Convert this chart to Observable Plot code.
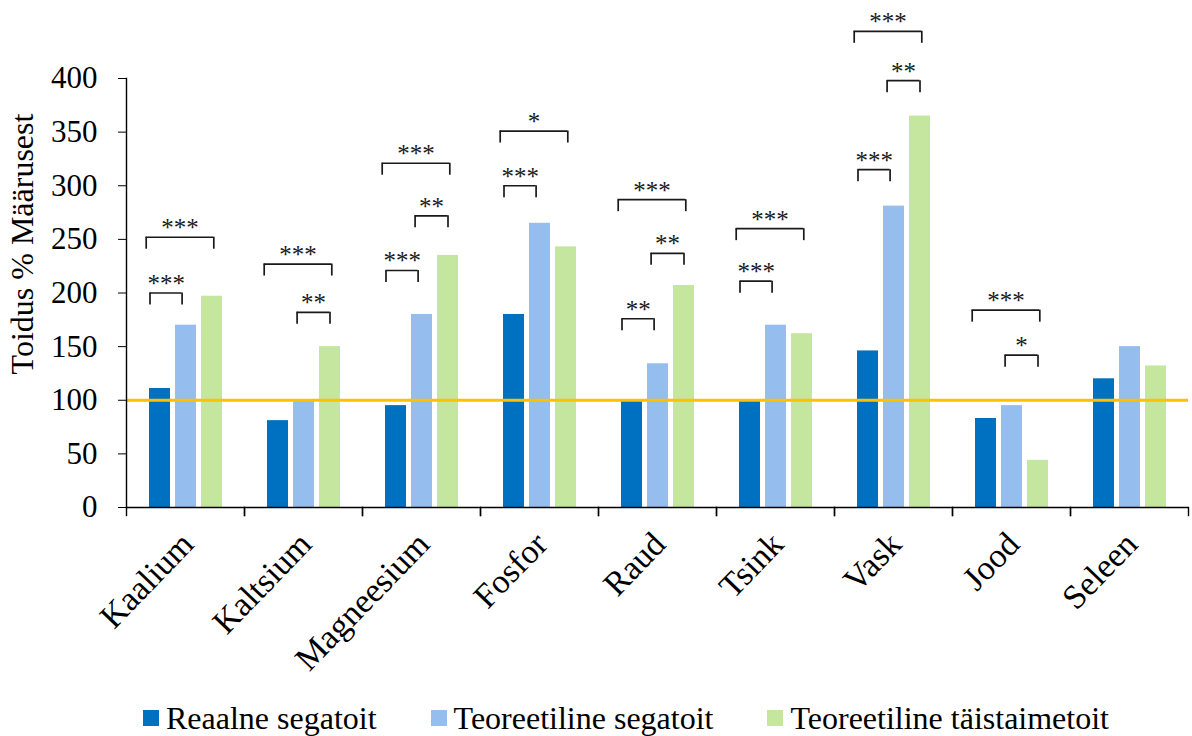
<!DOCTYPE html>
<html>
<head>
<meta charset="utf-8">
<script src="https://cdn.jsdelivr.net/npm/d3@7"></script>
<script src="https://cdn.jsdelivr.net/npm/@observablehq/plot@0.6"></script>
<style>
  html, body { margin: 0; padding: 0; background: #fff; overflow: hidden; }
  body { font-family: "Liberation Serif", Tinos, "Times New Roman", "DejaVu Serif", serif; color: #000; }
  #legend { display: flex; align-items: center; height: 36px; margin-left: 143px; font-size: 32px; }
  #legend .item { display: flex; align-items: center; margin-right: 54px; }
  #legend .sw { width: 16px; height: 16px; margin-right: 7px; }
</style>
</head>
<body>
<div id="chart"></div>
<div id="legend"></div>
<script>
// ---- data ----
const categories = ["Kaalium", "Kaltsium", "Magneesium", "Fosfor", "Raud", "Tsink", "Vask", "Jood", "Seleen"];
const seriesNames = ["Reaalne segatoit", "Teoreetiline segatoit", "Teoreetiline täistaimetoit"];
const seriesColors = ["#0070C0", "#95BDED", "#C4E69E"];
const realMixed  = [111, 81, 95, 180, 99, 99, 146, 83, 120];
const theoMixed  = [170, 99, 180, 265, 134, 170, 281, 95, 150];
const theoPlant  = [197, 150, 235, 243, 207, 162, 365, 44, 132];
const yTicks = [0, 50, 100, 150, 200, 250, 300, 350, 400];
const referenceLevel = 100;
const yLabel = "Toidus % Määrusest";

// significance brackets
const sigCategory = ["Kaalium","Kaalium","Kaltsium","Kaltsium","Magneesium","Magneesium","Magneesium","Fosfor","Fosfor","Raud","Raud","Raud","Tsink","Tsink","Vask","Vask","Vask","Jood","Jood"];
const sigFrom     = [0,0, 0,1, 0,1,0, 0,0, 0,1,0, 0,0, 0,1,0, 0,1];
const sigTo       = [1,2, 2,2, 1,2,2, 1,2, 1,2,2, 1,2, 1,2,2, 2,2];
const sigLevel    = [200,252, 227,182, 221,272,321, 300,351, 176,237,287, 211,260, 315,398,444, 184,142];
const sigLabel    = ["***","***", "***","**", "***","**","***", "***","*", "**","**","***", "***","***", "***","**","***", "***","*"];

// ---- tables ----
const valuesBySeries = [realMixed, theoMixed, theoPlant];
const rows = [];
categories.forEach((c, i) => seriesNames.forEach((s, j) => rows.push({cat: c, series: s, value: valuesBySeries[j][i]})));
const sig = sigCategory.map((c, i) => ({cat: c, a: seriesNames[sigFrom[i]], b: seriesNames[sigTo[i]], level: sigLevel[i], label: sigLabel[i], type: `${sigFrom[i]}${sigTo[i]}`}));

const serif = '"Liberation Serif", Tinos, "Times New Roman", "DejaVu Serif", serif';
const ink = "#1a1a1a";
const halfBar = 10.5;
function bracketMarks(type, insL, insR, textX, textDx) {
  const d = sig.filter(s => s.type === type);
  return [
    Plot.ruleY(d, {fx: "cat", x1: "a", x2: "b", y: "level", insetLeft: insL, insetRight: insR, stroke: ink, strokeWidth: 1.7}),
    Plot.ruleX(d, {fx: "cat", x: "a", y1: "level", y2: "level", insetBottom: -12, dx: -halfBar + insL, stroke: ink, strokeWidth: 1.7}),
    Plot.ruleX(d, {fx: "cat", x: "b", y1: "level", y2: "level", insetBottom: -12, dx: halfBar - insR, stroke: ink, strokeWidth: 1.7}),
    Plot.text(d, {fx: "cat", x: textX, y: "level", text: "label", dx: textDx, dy: -1, lineAnchor: "bottom", fontSize: 25, fill: ink})
  ];
}

const chart = Plot.plot({
  width: 1192,
  height: 700,
  marginLeft: 126,
  marginRight: 4,
  marginTop: 78,
  marginBottom: 193,
  style: {fontFamily: serif, color: "#000", background: "#fff"},
  fx: {domain: categories, padding: 0, label: null},
  x: {domain: seriesNames, paddingInner: 0.2, paddingOuter: 0.85, axis: null},
  y: {domain: [0, 400]},
  color: {domain: seriesNames, range: seriesColors},
  marks: [
    Plot.barY(rows, {fx: "cat", x: "series", y: "value", fill: "series"}),
    Plot.ruleY([referenceLevel], {stroke: "#FFC000", strokeWidth: 3}),
    Plot.ruleY([0], {stroke: "#000", strokeWidth: 1.4}),
    Plot.frame({anchor: "left", facetAnchor: "left", stroke: "#000", strokeWidth: 1.4}),
    Plot.frame({anchor: "left", insetTop: 429, insetBottom: -8, stroke: "#000", strokeWidth: 1.4}),
    Plot.frame({anchor: "right", insetTop: 429, insetBottom: -8, stroke: "#000", strokeWidth: 1.4}),
    Plot.axisY(yTicks, {tickSize: 8, tickPadding: 21, fontSize: 31, label: null, stroke: "#000"}),
    Plot.axisFx({anchor: "bottom", tickRotate: -46, tickSize: 0, tickPadding: 31, dx: 2, fontSize: 34, label: null}),
    ...bracketMarks("01", 0.5, 14.4, "a", 6.2),
    ...bracketMarks("12", 3.6, 10.5, "a", 9.6),
    ...bracketMarks("02", -3.3, 8.7, () => seriesNames[1], -6)
  ]
});

const svg = d3.select(chart);
svg.style("font-family", serif);
svg.append("text")
  .attr("transform", "translate(33,244) rotate(-90)")
  .attr("text-anchor", "middle")
  .attr("font-size", 32)
  .attr("fill", "#000")
  .text(yLabel);

document.getElementById("chart").appendChild(chart);

const legend = d3.select("#legend");
seriesNames.forEach((s, i) => {
  const it = legend.append("div").attr("class", "item");
  it.append("div").attr("class", "sw").style("background", seriesColors[i]);
  it.append("span").text(s);
});
</script>
</body>
</html>
